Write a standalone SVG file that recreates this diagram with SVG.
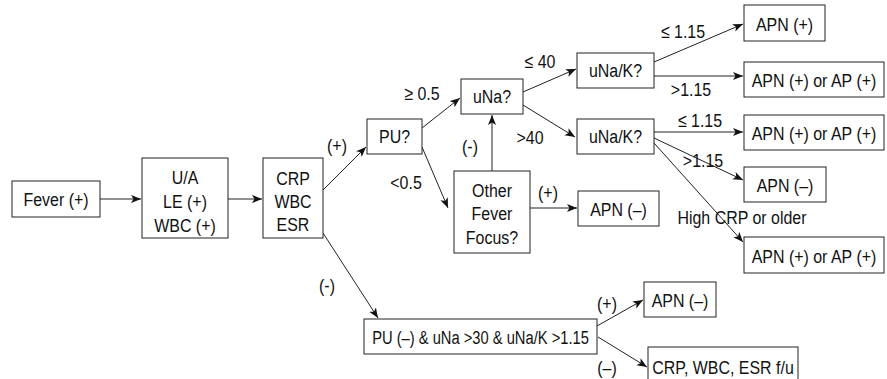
<svg xmlns="http://www.w3.org/2000/svg" width="887" height="379" viewBox="0 0 887 379">
<style>
.b{fill:#fff;stroke:#222;stroke-width:1}
.t{font-family:"Liberation Sans",Arial,sans-serif;font-size:19px;fill:#111;text-anchor:middle}
.c{fill:none;stroke:#222;stroke-width:1;marker-end:url(#a)}
</style>
<defs>
<marker id="a" markerUnits="userSpaceOnUse" markerWidth="11" markerHeight="9" refX="10" refY="4.5" orient="auto">
<path d="M0,0.5 L10,4.5 L0,8.5 L2.5,4.5 z" fill="#111"/>
</marker>
</defs>
<rect width="887" height="379" fill="#fff"/>
<g id="connectors">
<path class="c" d="M100,199 L141,199"/>
<path class="c" d="M228,199 L262,199"/>
<path class="c" d="M323,190 L366,147"/>
<path class="c" d="M323,233 L378,318"/>
<path class="c" d="M422,128 L460,98"/>
<path class="c" d="M422,147 L448,208"/>
<path class="c" d="M492,171 L492,115"/>
<path class="c" d="M530,208 L577,208"/>
<path class="c" d="M523,92 L576,69"/>
<path class="c" d="M523,105 L575,137"/>
<path class="c" d="M654,62 L743,24"/>
<path class="c" d="M654,76 L743,76"/>
<path class="c" d="M654,132 L743,132"/>
<path class="c" d="M654,138 L743,180"/>
<path class="c" d="M654,143 L743,242"/>
<path class="c" d="M597,326 L643,300"/>
<path class="c" d="M598,337 L647,367"/>
</g>
<g id="labels">
<text class="t" transform="translate(337,151.5) scale(0.84,1)">(+)</text>
<text class="t" transform="translate(327,291.5) scale(0.84,1)">(-)</text>
<text class="t" transform="translate(422,100) scale(0.84,1)">≥ 0.5</text>
<text class="t" transform="translate(406,188.5) scale(0.84,1)">&lt;0.5</text>
<text class="t" transform="translate(470,152.5) scale(0.84,1)">(-)</text>
<text class="t" transform="translate(530,143.5) scale(0.84,1)">&gt;40</text>
<text class="t" transform="translate(540,67.5) scale(0.84,1)">≤ 40</text>
<text class="t" transform="translate(548,198.5) scale(0.84,1)">(+)</text>
<text class="t" transform="translate(683,37.5) scale(0.84,1)">≤ 1.15</text>
<text class="t" transform="translate(691,95.5) scale(0.84,1)">&gt;1.15</text>
<text class="t" transform="translate(700,127) scale(0.84,1)">≤ 1.15</text>
<text class="t" transform="translate(703,166.5) scale(0.84,1)">&gt;1.15</text>
<text class="t" transform="translate(742,223.5) scale(0.84,1)">High CRP or older</text>
<text class="t" transform="translate(607,309.5) scale(0.84,1)">(+)</text>
<text class="t" transform="translate(607,373.5) scale(0.84,1)">(–)</text>
</g>
<g id="fever"><rect class="b" x="12" y="181" width="88" height="36"/><text class="t" transform="translate(56,205.5) scale(0.84,1)">Fever (+)</text></g>
<g id="ua"><rect class="b" x="142" y="158" width="86" height="80"/><text class="t" transform="translate(185,184) scale(0.84,1)">U/A</text><text class="t" transform="translate(185,208) scale(0.84,1)">LE (+)</text><text class="t" transform="translate(185,232) scale(0.84,1)">WBC (+)</text></g>
<g id="crp"><rect class="b" x="263" y="158" width="60" height="80"/><text class="t" transform="translate(293,184.5) scale(0.84,1)">CRP</text><text class="t" transform="translate(293,208) scale(0.84,1)">WBC</text><text class="t" transform="translate(293,230.5) scale(0.84,1)">ESR</text></g>
<g id="pu"><rect class="b" x="367" y="119" width="55" height="35"/><text class="t" transform="translate(394.5,143) scale(0.84,1)">PU?</text></g>
<g id="una"><rect class="b" x="461" y="79" width="62" height="35"/><text class="t" transform="translate(492,103) scale(0.84,1)">uNa?</text></g>
<g id="other"><rect class="b" x="454" y="171" width="76" height="82"/><text class="t" transform="translate(492,197) scale(0.84,1)">Other</text><text class="t" transform="translate(492,220) scale(0.84,1)">Fever</text><text class="t" transform="translate(492,243.5) scale(0.84,1)">Focus?</text></g>
<g id="unak1"><rect class="b" x="577" y="53" width="77" height="35"/><text class="t" transform="translate(615.5,77) scale(0.84,1)">uNa/K?</text></g>
<g id="unak2"><rect class="b" x="577" y="119" width="77" height="35"/><text class="t" transform="translate(615.5,143) scale(0.84,1)">uNa/K?</text></g>
<g id="apn1"><rect class="b" x="744" y="5" width="81" height="36"/><text class="t" transform="translate(784.5,30.5) scale(0.84,1)">APN (+)</text></g>
<g id="apnap1"><rect class="b" x="744" y="62" width="140" height="35"/><text class="t" transform="translate(814,86.5) scale(0.84,1)">APN (+) or AP (+)</text></g>
<g id="apnap2"><rect class="b" x="744" y="115" width="140" height="35"/><text class="t" transform="translate(814,139.5) scale(0.84,1)">APN (+) or AP (+)</text></g>
<g id="apnneg1"><rect class="b" x="744" y="167" width="82" height="35"/><text class="t" transform="translate(785,191.5) scale(0.84,1)">APN (–)</text></g>
<g id="apnneg2"><rect class="b" x="578" y="191" width="81" height="35"/><text class="t" transform="translate(618.5,215.5) scale(0.84,1)">APN (–)</text></g>
<g id="apnap3"><rect class="b" x="744" y="237" width="140" height="36"/><text class="t" transform="translate(814,262.5) scale(0.84,1)">APN (+) or AP (+)</text></g>
<g id="puneg"><rect class="b" x="364" y="319" width="233" height="35"/><text class="t" transform="translate(480.5,343.5) scale(0.84,1)" textLength="258" lengthAdjust="spacingAndGlyphs">PU (–) &amp; uNa &gt;30 &amp; uNa/K &gt;1.15</text></g>
<g id="apnneg3"><rect class="b" x="644" y="282" width="72" height="35"/><text class="t" transform="translate(680,306.5) scale(0.84,1)">APN (–)</text></g>
<g id="fu"><rect class="b" x="648" y="347" width="150" height="40"/><text class="t" transform="translate(723,374) scale(0.84,1)">CRP, WBC, ESR f/u</text></g>
</svg>
